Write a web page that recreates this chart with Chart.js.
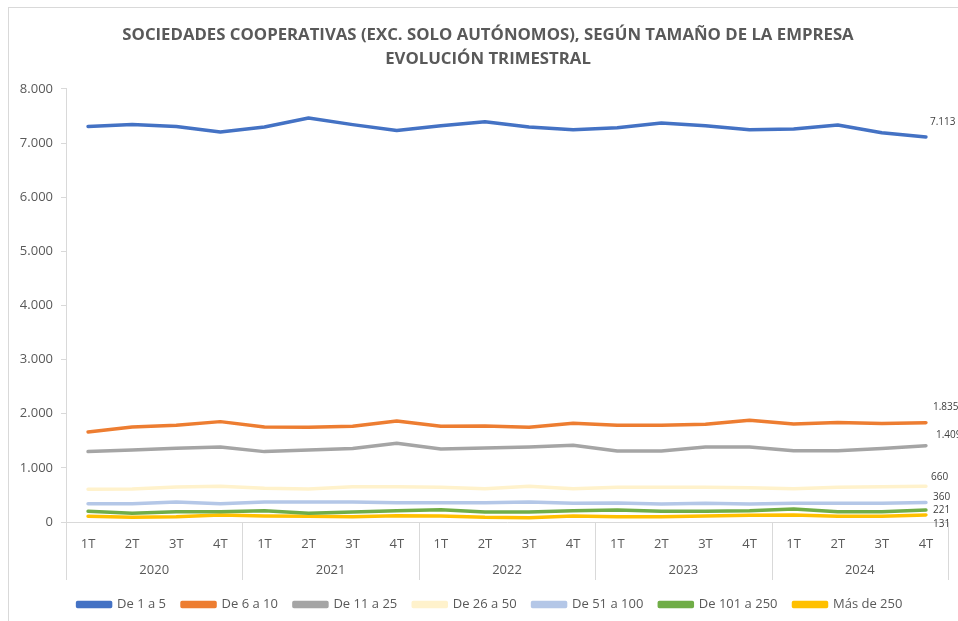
<!DOCTYPE html>
<html>
<head>
<meta charset="utf-8">
<script src="https://cdn.jsdelivr.net/npm/chart.js@4.4.1/dist/chart.umd.min.js"></script>
<style>
html,body{margin:0;padding:0;background:#fff;overflow:hidden;}
#wrap{width:958px;height:621px;position:relative;}
</style>
</head>
<body>
<div id="wrap"><canvas id="c" width="958" height="621"></canvas></div>
<script>
const years = ['2020','2021','2022','2023','2024'];
const quarters = ['1T','2T','3T','4T'];
const seriesNames = ['De 1 a 5','De 6 a 10','De 11 a 25','De 26 a 50','De 51 a 100','De 101 a 250','Más de 250'];
const de1a5 = [7307,7344,7307,7203,7295,7462,7340,7233,7319,7394,7295,7246,7283,7370,7319,7246,7259,7332,7190,7113];
const de6a10 = [1664,1756,1787,1854,1756,1750,1769,1867,1769,1775,1750,1824,1787,1787,1806,1879,1812,1836,1818,1835];
const de11a25 = [1300,1331,1362,1386,1300,1331,1356,1454,1349,1368,1386,1417,1312,1312,1386,1386,1318,1318,1356,1409];
const de26a50 = [604,610,647,659,622,610,653,653,640,616,659,616,640,640,640,634,616,640,653,660];
const de51a100 = [339,339,370,339,370,370,370,357,357,357,370,345,351,333,345,333,345,345,345,360];
const de101a250 = [197,160,191,191,209,160,185,209,228,185,185,209,222,197,197,209,240,191,191,221];
const mas250 = [105,86,98,129,111,105,98,117,111,86,80,111,98,98,111,123,129,105,105,131];
const yTicks = [0,1000,2000,3000,4000,5000,6000,7000,8000];

const labels = [];
years.forEach(y => quarters.forEach(q => labels.push(q)));

const colors = ['#4472C4','#ED7D31','#A5A5A5','#FFF2CC','#B4C7E7','#70AD47','#FFC000'];
const labelOffsets = [[4,-15],[7,-16],[10,-11],[5,-9],[7,-5],[7,0],[7,9]];
const allSeries = [de1a5,de6a10,de11a25,de26a50,de51a100,de101a250,mas250];

const fmt = v => String(v).replace(/\B(?=(\d{3})+(?!\d))/g, '.');

const datasets = allSeries.map((d,i) => ({
  label: seriesNames[i],
  data: d,
  borderColor: colors[i],
  backgroundColor: colors[i],
  borderWidth: 3.5,
  pointRadius: 0,
  tension: 0,
  borderCapStyle: 'round',
  borderJoinStyle: 'round',
  labelOffset: labelOffsets[i]
}));

const GRID = '#d9d9d9';
const TXT = '#595959';

const framePlugin = {
  id: 'frame',
  afterLayout(chart){
    if (chart.titleBlock) { chart.titleBlock.left += 14; chart.titleBlock.right += 14; }
    if (chart.legend) { chart.legend.left += 16; chart.legend.right += 16; }
  },
  beforeDraw(chart){
    const ctx = chart.ctx;
    ctx.save();
    ctx.fillStyle = '#fff';
    ctx.fillRect(0,0,chart.width,chart.height);
    ctx.strokeStyle = GRID;
    ctx.lineWidth = 1;
    ctx.strokeRect(8.5,7.5,1200,1200);
    ctx.restore();
  },
  afterDraw(chart){
    const ctx = chart.ctx;
    const x = chart.scales.x;
    const area = chart.chartArea;
    const step = x.getPixelForValue(1) - x.getPixelForValue(0);
    ctx.save();
    ctx.strokeStyle = GRID;
    ctx.lineWidth = 1;
    for (let i = 0; i <= labels.length; i += quarters.length) {
      const px = Math.round(x.getPixelForValue(i) - step/2) + 0.5;
      ctx.beginPath();
      ctx.moveTo(px, area.bottom);
      ctx.lineTo(px, area.bottom + 58);
      ctx.stroke();
    }
    ctx.fillStyle = TXT;
    ctx.font = '13px "Open Sans"';
    ctx.textAlign = 'center';
    ctx.textBaseline = 'middle';
    years.forEach((y, k) => {
      const a = x.getPixelForValue(k*quarters.length);
      const b = x.getPixelForValue(k*quarters.length + quarters.length - 1);
      ctx.fillText(y, (a+b)/2, area.bottom + 48);
    });
    ctx.restore();
  },
  afterDatasetsDraw(chart){
    const ctx = chart.ctx;
    ctx.save();
    ctx.fillStyle = '#404040';
    ctx.font = '10px "Open Sans"';
    ctx.textAlign = 'left';
    ctx.textBaseline = 'middle';
    chart.data.datasets.forEach((ds, i) => {
      const meta = chart.getDatasetMeta(i);
      const pt = meta.data[meta.data.length - 1];
      const off = ds.labelOffset;
      ctx.fillText(fmt(ds.data[ds.data.length - 1]), pt.x + off[0], pt.y + off[1]);
    });
    ctx.restore();
  }
};

new Chart(document.getElementById('c'), {
  type: 'line',
  data: { labels, datasets },
  plugins: [framePlugin],
  options: {
    responsive: false,
    animation: false,
    devicePixelRatio: 1,
    layout: { padding: { left: 0, right: 10, top: 0, bottom: 0 } },
    plugins: {
      title: {
        display: true,
        text: ['SOCIEDADES COOPERATIVAS (EXC. SOLO AUTÓNOMOS), SEGÚN TAMAÑO DE LA EMPRESA', 'EVOLUCIÓN TRIMESTRAL'],
        color: TXT,
        font: { family: '"Open Sans"', size: 16.75, weight: 'bold', lineHeight: 1.43 },
        padding: { top: 23, bottom: 18 }
      },
      legend: {
        position: 'bottom',
        labels: {
          color: TXT,
          font: { family: '"Open Sans"', size: 13 },
          boxWidth: 33,
          boxHeight: 4,
          padding: 16
        }
      },
      tooltip: { enabled: false }
    },
    scales: {
      x: {
        type: 'category',
        offset: true,
        grid: { display: false },
        border: { display: true, color: GRID, width: 1 },
        ticks: { color: TXT, font: { family: '"Open Sans"', size: 13 }, padding: 6, maxRotation: 0, autoSkip: false },
        afterFit(s){ s.height = 60; }
      },
      y: {
        min: 0,
        max: 8000,
        afterBuildTicks(s){ s.ticks = yTicks.map(v => ({ value: v })); },
        grid: { drawOnChartArea: false, drawTicks: true, tickLength: 5, color: GRID },
        border: { display: true, color: GRID, width: 1 },
        ticks: { color: TXT, font: { family: '"Open Sans"', size: 13 }, padding: 8, callback: v => fmt(v) },
        afterFit(s){ s.width = 66; }
      }
    }
  }
});
</script>
</body>
</html>
